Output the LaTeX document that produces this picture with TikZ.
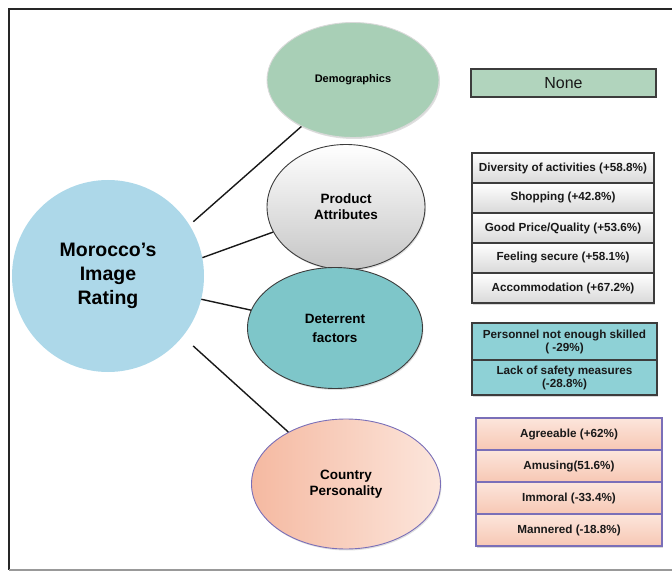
\documentclass[tikz,border=0pt]{standalone}
\usepackage{fontspec}
\setmainfont{Liberation Sans}
\usepackage{xcolor}
\usepackage{tikz}
\usetikzlibrary{positioning, shapes.geometric, shadows}

\definecolor{skyfill}{HTML}{ADD8E9}
\definecolor{greenfill}{HTML}{A8CFB6}
\definecolor{tealfill}{HTML}{7EC6C9}
\definecolor{tealbox}{HTML}{8ED1D6}
\definecolor{peachdark}{HTML}{F5B9A1}
\definecolor{peachlight}{HTML}{FCE6DC}
\definecolor{purpleline}{HTML}{7A6FB8}
\definecolor{boxline}{HTML}{3C3C3C}

\begin{document}
\begin{tikzpicture}[
    x=1pt, y=-1pt,
    % Define styles for the nodes and paths
        hub/.style={circle, fill=skyfill, minimum size=192pt, align=center, inner sep=0pt,
            font=\fontsize{19.5}{24}\selectfont\bfseries},
        factor/.style={ellipse, align=center, inner sep=0pt, line width=0.9pt,
            font=\fontsize{13.5}{16}\selectfont\bfseries, drop shadow={shadow xshift=1pt, shadow yshift=-1.5pt, opacity=0.25}},
        item/.style={rectangle, draw=boxline, line width=1.3pt, align=center, inner sep=1pt, outer sep=0pt,
            font=\fontsize{11.7}{13}\selectfont\bfseries, text=black!90,
            drop shadow={shadow xshift=1pt, shadow yshift=-1.5pt, opacity=0.3}},
        link/.style={line width=1.4pt, black!90}
    ]
    \useasboundingbox (0,0) rectangle (672,572);

        % Frame
        \draw[line width=2pt, black!85] (672,9) -- (9,9) -- (9,570);
        \draw[line width=1.5pt, black!40] (9,570) -- (672,570);

        % Define the nodes
        \node[hub] (morocco) at (108,276) {Morocco's\\Image\\Rating};

        \node[factor, fill=greenfill, draw=gray!30, minimum width=172pt, minimum height=115pt,
            font=\fontsize{11}{13}\selectfont\bfseries] (demo) at (353,80) {Demographics};

        \node[factor, draw=boxline, top color=white, bottom color=gray!45, minimum width=158pt,
            minimum height=125pt] (product) at (346,207) {Product\\Attributes};

        \node[factor, draw=boxline, fill=tealfill, minimum width=175pt, minimum height=121pt]
            (deterrent) at (335,328) {Deterrent\\[3pt]factors};

        \node[factor, draw=purpleline, left color=peachdark, right color=peachlight,
            minimum width=189pt, minimum height=130pt] (personality) at (346,484) {Country\\Personality};

        % Right hand boxes
        \node[item, fill=greenfill!90, minimum width=185pt, minimum height=28pt,
            font=\fontsize{16}{18}\selectfont] (none) at (563.5,83) {None};

        \node[item, top color=white, bottom color=gray!30, minimum width=182pt, minimum height=30pt] (diversity) at (563,168) {Diversity of activities (+58.8\%)};
        \node[item, top color=white, bottom color=gray!30, minimum width=182pt, minimum height=30pt, below=0pt of diversity] (shopping) {Shopping (+42.8\%)};
        \node[item, top color=white, bottom color=gray!30, minimum width=182pt, minimum height=30pt, below=0pt of shopping] (price) {Good Price/Quality (+53.6\%)};
        \node[item, top color=white, bottom color=gray!30, minimum width=182pt, minimum height=30pt, below=0pt of price] (secure) {Feeling secure (+58.1\%)};
        \node[item, top color=white, bottom color=gray!30, minimum width=182pt, minimum height=30pt, below=0pt of secure] (accommodation) {Accommodation (+67.2\%)};

        \node[item, fill=tealbox, minimum width=185pt, minimum height=37pt] (skilled) at (564.5,341.5) {Personnel not enough skilled\\( -29\%)};
        \node[item, fill=tealbox, minimum width=185pt, minimum height=35pt, below=0pt of skilled] (safety) {Lack of safety measures\\(-28.8\%)};

        \node[item, draw=purpleline, top color=peachlight, bottom color=peachdark!80, minimum width=186pt, minimum height=32pt] (agreeable) at (569,434) {Agreeable (+62\%)};
        \node[item, draw=purpleline, top color=peachlight, bottom color=peachdark!80, minimum width=186pt, minimum height=32pt, below=0pt of agreeable] (amusing) {Amusing(51.6\%)};
        \node[item, draw=purpleline, top color=peachlight, bottom color=peachdark!80, minimum width=186pt, minimum height=32pt, below=0pt of amusing] (immoral) {Immoral (-33.4\%)};
        \node[item, draw=purpleline, top color=peachlight, bottom color=peachdark!80, minimum width=186pt, minimum height=32pt, below=0pt of immoral] (mannered) {Mannered (-18.8\%)};

        % Draw the connectors
        \draw[link, shorten <=5pt] (morocco.32) -- (demo.222);
        \draw[link] (morocco.11) -- (product.199);
        \draw[link] (morocco.-14) -- (deterrent.168);
        \draw[link, shorten <=14pt] (morocco.-39) -- (personality.138);
    \end{tikzpicture}
\end{document}
